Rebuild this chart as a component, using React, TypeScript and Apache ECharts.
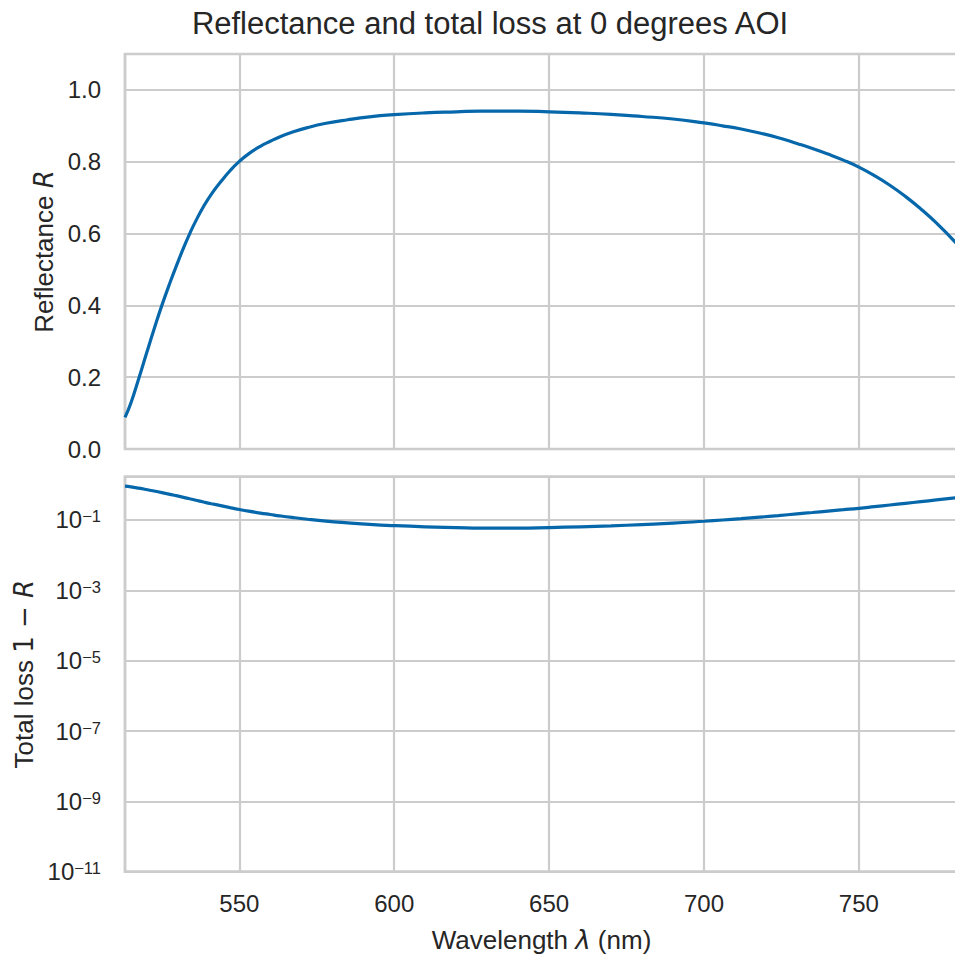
import React, { useEffect, useRef } from "react";
import * as echarts from "echarts";

// Wavelength samples (nm)
const wavelength = [
  513.1, 515, 517.5, 520, 522.5, 525, 528, 530, 532, 534, 536, 538.5, 541, 544,
  547, 550, 553, 556.8, 560, 563, 567, 572, 578, 585, 592, 600, 610, 620, 628,
  640, 650, 660, 670, 680, 690, 700, 706, 712, 718, 724, 730, 735, 740, 745,
  750, 755, 760, 765, 770, 775, 782,
];

// Reflectance R
const reflectance = [
  0.088, 0.128, 0.195, 0.265, 0.334, 0.4, 0.472, 0.517, 0.56, 0.6, 0.636,
  0.676, 0.71, 0.744, 0.775, 0.801, 0.822, 0.843, 0.857, 0.869, 0.882, 0.895,
  0.907, 0.917, 0.925, 0.931, 0.936, 0.939, 0.941, 0.941, 0.939, 0.936, 0.932,
  0.926, 0.919, 0.908, 0.9, 0.891, 0.88, 0.867, 0.851, 0.837, 0.8215, 0.8045,
  0.785, 0.7615, 0.7345, 0.7035, 0.6685, 0.6295, 0.568,
];

// Total loss 1 - R
const totalLoss = [
  0.912, 0.872, 0.805, 0.735, 0.666, 0.6, 0.528, 0.483, 0.44, 0.4, 0.364,
  0.324, 0.29, 0.256, 0.225, 0.199, 0.178, 0.157, 0.143, 0.131, 0.118, 0.105,
  0.093, 0.083, 0.075, 0.069, 0.064, 0.061, 0.059, 0.059, 0.061, 0.064, 0.068,
  0.074, 0.081, 0.092, 0.1, 0.109, 0.12, 0.133, 0.149, 0.163, 0.179, 0.196,
  0.215, 0.239, 0.266, 0.297, 0.332, 0.371, 0.432,
];

const reflTicks = [0, 0.2, 0.4, 0.6, 0.8, 1.0];
const lossTickExponents = [-11, -9, -7, -5, -3, -1];

const TEXT = "#262626";
const GRIDC = "#cccccc";
const LINEC = "#0668ab";
const FONT = "'Liberation Sans', Arial, sans-serif";
const MATH = "'DejaVu Sans', sans-serif";

export default function App() {
  const ref = useRef<HTMLDivElement>(null);
  useEffect(() => {
    document.body.style.margin = "0";
    const chart = echarts.init(ref.current!, undefined, { renderer: "svg" });
    const xCommon = {
      type: "value",
      min: 513.1,
      max: 782.0,
      splitNumber: 5,
      axisLine: { show: false },
      axisTick: { show: false },
      splitLine: { show: true, lineStyle: { color: GRIDC, width: 2.2 } },
    };
    const gridCommon = {
      left: 125,
      width: 833,
      height: 395,
      show: true,
      borderColor: GRIDC,
      borderWidth: 2.7,
      backgroundColor: "transparent",
      containLabel: false,
      outerBoundsMode: "none",
    };
    chart.setOption({
      animation: false,
      backgroundColor: "#ffffff",
      textStyle: { fontFamily: FONT, color: TEXT },
      title: {
        text: "Reflectance and total loss at 0 degrees AOI",
        left: 485,
        top: 3,
        textAlign: "center",
        textStyle: { fontFamily: FONT, fontSize: 31, fontWeight: "normal", color: TEXT },
      },
      grid: [
        { ...gridCommon, top: 54 },
        { ...gridCommon, top: 476.7 },
      ],
      xAxis: [
        { ...xCommon, gridIndex: 0, axisLabel: { show: false } },
        {
          ...xCommon,
          gridIndex: 1,
          axisLabel: {
            show: true,
            fontSize: 24,
            color: TEXT,
            fontFamily: FONT,
            margin: 20,
            formatter: (v: number) => (Math.abs(v % 50) < 1e-6 ? String(v) : ""),
          },
          name: "Wavelength {m|λ} (nm)",
          nameLocation: "middle",
          nameGap: 55,
          nameTextStyle: {
            fontSize: 26,
            color: TEXT,
            fontFamily: FONT,
            rich: { m: { fontSize: 26, fontFamily: MATH, fontStyle: "italic", color: TEXT } },
          },
        },
      ],
      yAxis: [
        {
          type: "value",
          gridIndex: 0,
          min: 0,
          max: 1.1,
          interval: 0.2,
          axisLine: { show: false },
          axisTick: { show: false },
          splitLine: { show: true, lineStyle: { color: GRIDC, width: 2.2 } },
          axisLabel: {
            fontSize: 24,
            color: TEXT,
            fontFamily: FONT,
            margin: 24,
            formatter: (v: number) => (reflTicks.some((t) => Math.abs(t - v) < 1e-6) ? v.toFixed(1) : ""),
          },
          name: "Reflectance {m|R}",
          nameLocation: "middle",
          nameGap: 68,
          nameTextStyle: {
            fontSize: 26,
            color: TEXT,
            fontFamily: FONT,
            rich: { m: { fontSize: 26, fontFamily: MATH, fontStyle: "italic", color: TEXT } },
          },
        },
        {
          type: "log",
          logBase: 10,
          gridIndex: 1,
          min: 1e-11,
          max: 1.7,
          interval: 2,
          axisLine: { show: false },
          axisTick: { show: false },
          splitLine: { show: true, lineStyle: { color: GRIDC, width: 2.2 } },
          axisLabel: {
            color: TEXT,
            fontFamily: FONT,
            margin: 24,
            formatter: (v: number) => {
              const e = Math.log10(v);
              const r = Math.round(e);
              if (Math.abs(e - r) > 0.01 || !lossTickExponents.includes(r)) return "";
              return `{b|10}{s|−${-r}}`;
            },
            rich: {
              b: { fontSize: 24, lineHeight: 24, padding: [8, 0, 0, 0], verticalAlign: "bottom", fontFamily: FONT, color: TEXT },
              s: { fontSize: 16.5, lineHeight: 16, verticalAlign: "top", fontFamily: FONT, color: TEXT },
            },
          },
          name: "Total loss {n|1 − }{m|R}",
          nameLocation: "middle",
          nameGap: 88,
          nameTextStyle: {
            fontSize: 26,
            color: TEXT,
            fontFamily: FONT,
            rich: {
              n: { fontSize: 26, fontFamily: MATH, color: TEXT },
              m: { fontSize: 26, fontFamily: MATH, fontStyle: "italic", color: TEXT },
            },
          },
        },
      ],
      series: [
        {
          type: "line",
          xAxisIndex: 0,
          yAxisIndex: 0,
          data: wavelength.map((w, i) => [w, reflectance[i]]),
          showSymbol: false,
          smooth: 0.5,
          lineStyle: { color: LINEC, width: 3.2 },
          itemStyle: { color: LINEC },
        },
        {
          type: "line",
          xAxisIndex: 1,
          yAxisIndex: 1,
          data: wavelength.map((w, i) => [w, totalLoss[i]]),
          showSymbol: false,
          smooth: 0.5,
          lineStyle: { color: LINEC, width: 3.2 },
          itemStyle: { color: LINEC },
        },
      ],
    });
    return () => chart.dispose();
  }, []);
  return <div ref={ref} style={{ width: 955, height: 954 }} />;
}
